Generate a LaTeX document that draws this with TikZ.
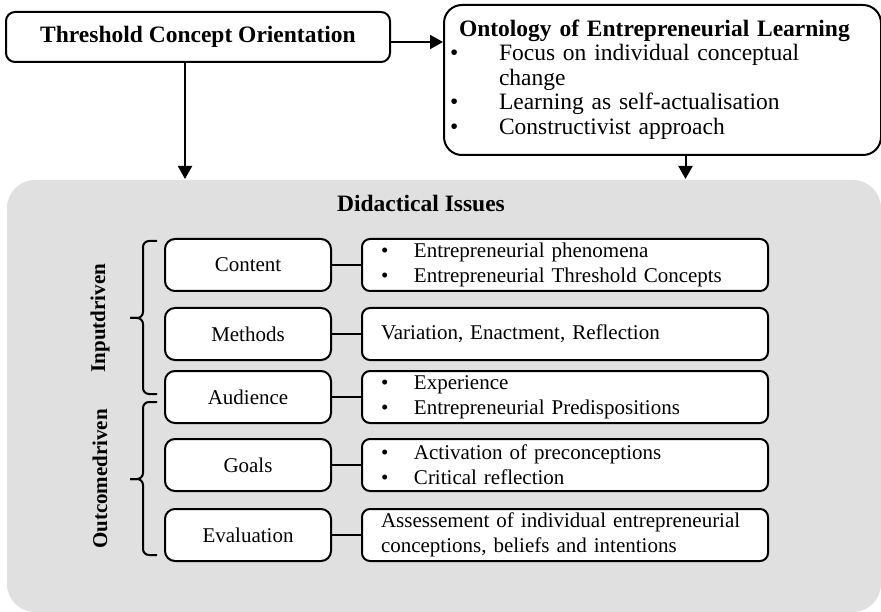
\documentclass[tikz,border=0pt]{standalone}
\usepackage{xcolor}
\usepackage{fontspec}
\setmainfont{Liberation Serif}
\usepackage{tikz}
\usetikzlibrary{arrows.meta}
\definecolor{panelgray}{RGB}{224,224,224}
\newcommand{\bul}[1][33pt]{\makebox[#1][l]{\textbullet}}

\begin{document}
\begin{tikzpicture}[x=1pt, y=-1pt, line width=2pt,
    box/.style={draw, fill=white, rounded corners=9pt},
    lbox/.style={box, rounded corners=10pt, minimum width=166pt, minimum height=52pt, font=\fontsize{21}{25}\selectfont},
    rbox/.style={box, rounded corners=8pt, anchor=west, text width=368pt, inner xsep=19pt, minimum height=52pt, align=left, font=\fontsize{21}{25}\selectfont},
    lbl/.style={rotate=90, inner sep=0pt, font=\bfseries\fontsize{21}{25}\selectfont},
    arr/.style={-{Triangle[width=14pt,length=13pt]}},
    grp/.style={rounded corners=6pt}]
    \useasboundingbox (0,0) rectangle (881,612);
    \node[fill=panelgray, rounded corners=28pt, minimum width=874pt, minimum height=432pt, anchor=north west, inner sep=0pt] (pan) at (6,179) {};
    \node[box, minimum width=384pt, minimum height=50pt, font=\bfseries\fontsize{23.5}{25}\selectfont] (thr) at (198,37) {Threshold Concept Orientation};
    \node[box, rounded corners=18pt, anchor=north west, text width=425pt, inner xsep=6pt, minimum height=150pt, align=left, font=\fontsize{23.5}{24.5}\selectfont] (onto) at (443,4) {\hspace*{9pt}\textbf{Ontology of Entrepreneurial Learning}\\
        \bul[49pt]Focus on individual conceptual\\
        \hspace*{49pt}change\\
        \bul[49pt]Learning as self-actualisation\\
        \bul[49pt]Constructivist approach\\[-18pt]\mbox{}};
    \draw[arr] ([yshift=-5pt]thr.east) -- ([yshift=-5pt]thr.east -| onto.west);
    \draw[arr] ([xshift=-13pt]thr.south) -- ([xshift=-13pt]thr.south |- pan.north);
    \draw[arr] ([xshift=23pt]onto.south) -- ([xshift=23pt]onto.south |- pan.north);
    \node[inner sep=0pt, font=\bfseries\fontsize{23.5}{25}\selectfont] (did) at (421,203) {Didactical Issues};
    \node[lbox] (content) at (248,265) {Content};
    \node[lbox] (methods) at (248,334) {Methods};
    \node[lbox] (audience) at (248,397) {Audience};
    \node[lbox] (goals) at (248,465) {Goals};
    \node[lbox] (evaluation) at (248,535) {Evaluation};
    \node[rbox] (contentR) at (361,265) {\bul Entrepreneurial phenomena\\ \bul Entrepreneurial Threshold Concepts};
    \node[rbox] (methodsR) at (361,334) {Variation, Enactment, Reflection};
    \node[rbox] (audienceR) at (361,397) {\bul Experience\\ \bul Entrepreneurial Predispositions};
    \node[rbox] (goalsR) at (361,465) {\bul Activation of preconceptions\\ \bul Critical reflection};
    \node[rbox] (evaluationR) at (361,535) {Assessement of individual entrepreneurial\\ conceptions, beliefs and intentions};
    \draw (content) -- (contentR);
    \draw (methods) -- (methodsR);
    \draw (audience) -- (audienceR);
    \draw (goals) -- (goalsR);
    \draw (evaluation) -- (evaluationR);
    \draw[grp] (157,241) -- (143,241) -- (143,318) -- (130,318);
    \draw[grp] (157,394) -- (143,394) -- (143,318) -- (130,318);
    \draw[grp] (157,402) -- (143,402) -- (143,479) -- (130,479);
    \draw[grp] (157,555) -- (143,555) -- (143,479) -- (130,479);
    \node[lbl] (inp) at (100,318) {Inputdriven};
    \node[lbl] (outc) at (100,479) {Outcomedriven};
\end{tikzpicture}
\end{document}
